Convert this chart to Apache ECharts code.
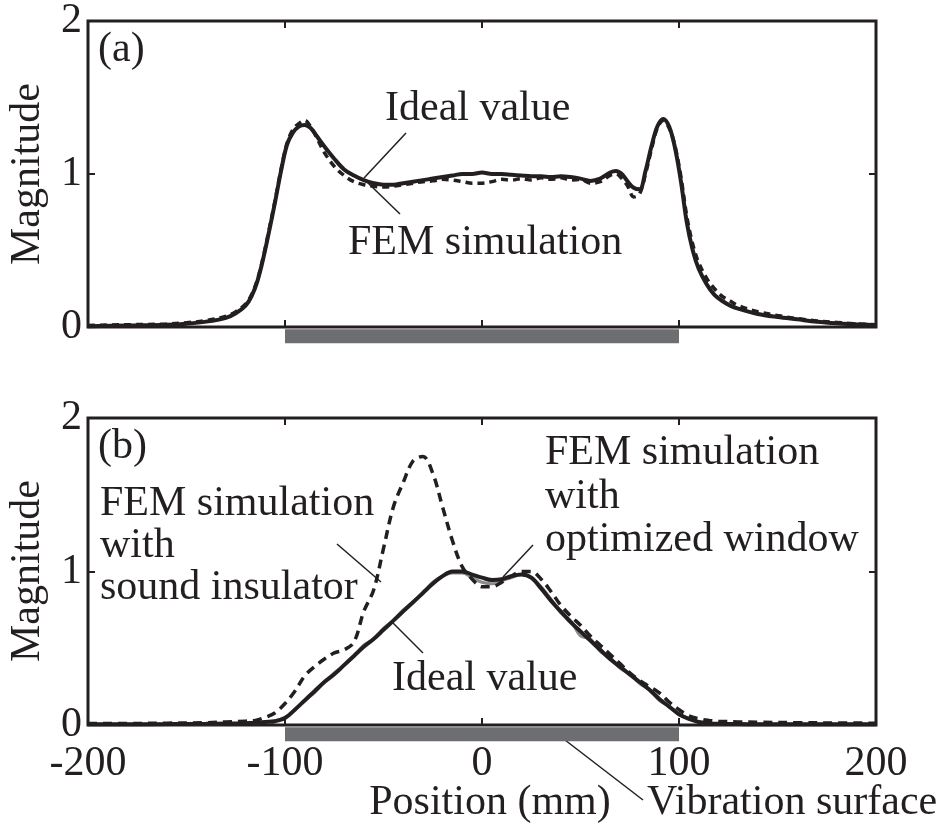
<!DOCTYPE html>
<html>
<head>
<meta charset="utf-8">
<script src="https://cdn.jsdelivr.net/npm/echarts@6/dist/echarts.min.js"></script>
<style>
  html, body { margin: 0; padding: 0; background: #fff; }
  #chart { width: 952px; height: 834px; }
</style>
</head>
<body>
<div id="chart"></div>
<script>
// x positions (mm), panel (a)
var posA = [
  -200, -180, -160, -150, -140, -130,
  -125, -120, -117, -114, -111, -108, -105, -102, -99, -96,
  -93, -90, -87, -84, -80, -75, -70, -65,
  -60, -55, -50, -45, -40, -35, -30, -25,
  -20, -15, -10, -5, 0, 5, 10, 15,
  20, 25, 30, 35, 40, 45, 50, 55,
  60, 65, 68, 71, 74, 77, 80, 83,
  86, 89, 92, 95, 98, 101, 104, 107, 110,
  114, 118, 122, 126, 130,
  140, 150, 160, 170, 180, 190, 200
];
var idealA = [
  0.005, 0.01, 0.015, 0.022, 0.035, 0.06,
  0.09, 0.14, 0.2, 0.3, 0.45, 0.63, 0.82, 1.02, 1.19, 1.27,
  1.31, 1.32, 1.3, 1.25, 1.18, 1.1, 1.03, 0.99,
  0.96, 0.94, 0.93, 0.93, 0.94, 0.95, 0.96, 0.97,
  0.98, 0.99, 1.0, 1.0, 1.01, 1.0, 1.0, 0.995,
  0.99, 0.985, 0.985, 0.98, 0.985, 0.98, 0.97, 0.955,
  0.97, 1.01, 1.02, 1.0, 0.95, 0.91, 0.9, 1.02,
  1.18, 1.31, 1.36, 1.31, 1.17, 0.95, 0.68, 0.5, 0.38,
  0.28, 0.21, 0.17, 0.14, 0.12,
  0.085, 0.065, 0.05, 0.035, 0.025, 0.018, 0.012
];
var femA = [
  0.01, 0.015, 0.02, 0.028, 0.042, 0.07,
  0.1, 0.15, 0.21, 0.31, 0.46, 0.64, 0.83, 1.03, 1.2, 1.29,
  1.33, 1.35, 1.31, 1.24, 1.14, 1.05, 0.99, 0.95,
  0.93, 0.92, 0.915, 0.92, 0.93, 0.94, 0.95, 0.955,
  0.965, 0.96, 0.95, 0.94, 0.94, 0.95, 0.965, 0.96,
  0.97, 0.96, 0.975, 0.965, 0.975, 0.96, 0.965, 0.94,
  0.95, 0.99, 1.0, 0.97, 0.92, 0.85, 0.87, 1.0,
  1.16, 1.3, 1.35, 1.3, 1.18, 0.98, 0.72, 0.54, 0.42,
  0.32, 0.25, 0.2, 0.17, 0.14,
  0.1, 0.075, 0.055, 0.04, 0.03, 0.02, 0.015
];

// x positions (mm), panel (b)
var posB = [
  -200, -180, -160, -140, -130, -120, -115, -110, -105, -100,
  -95, -90, -85, -80, -75, -70, -65, -60, -55, -50,
  -45, -40, -35, -30, -25, -20, -15, -10, -5, 0,
  5, 10, 15, 20, 25, 30, 35, 40, 45, 50,
  55, 60, 65, 70, 75, 80, 85, 90, 95, 100,
  105, 110, 115, 120, 130, 140, 160, 180, 200
];
var idealB = [
  0.005, 0.005, 0.006, 0.008, 0.01, 0.012, 0.015, 0.02, 0.025, 0.045,
  0.1, 0.16, 0.22, 0.28, 0.33, 0.39, 0.45, 0.51, 0.56, 0.62,
  0.68, 0.74, 0.8, 0.86, 0.92, 0.97, 1.0, 1.0, 0.98, 0.96,
  0.945, 0.95, 0.97, 0.98, 0.96, 0.89, 0.81, 0.74, 0.67, 0.61,
  0.55, 0.49, 0.43, 0.38, 0.33, 0.28, 0.23, 0.17, 0.12, 0.07,
  0.04, 0.02, 0.012, 0.008, 0.006, 0.005, 0.005, 0.005, 0.005
];
var insulatorB = [
  0.01, 0.01, 0.012, 0.015, 0.02, 0.025, 0.03, 0.05, 0.08, 0.14,
  0.22, 0.32, 0.38, 0.43, 0.47, 0.49, 0.54, 0.74, 0.88, 1.15,
  1.42, 1.58, 1.72, 1.75, 1.64, 1.42, 1.2, 1.03, 0.95, 0.9,
  0.9, 0.93, 0.97, 1.0, 1.0, 0.95, 0.87, 0.78, 0.71, 0.65,
  0.58, 0.52, 0.46, 0.4, 0.34, 0.29, 0.25, 0.21, 0.15, 0.1,
  0.06, 0.04, 0.03, 0.025, 0.02, 0.018, 0.015, 0.013, 0.012
];
var optimizedB = [
  0.005, 0.005, 0.006, 0.008, 0.01, 0.012, 0.015, 0.02, 0.028, 0.05,
  0.1, 0.16, 0.21, 0.28, 0.34, 0.39, 0.45, 0.52, 0.56, 0.63,
  0.68, 0.75, 0.8, 0.86, 0.93, 0.97, 0.99, 0.99, 0.96, 0.93,
  0.92, 0.94, 0.96, 0.98, 0.96, 0.9, 0.82, 0.73, 0.68, 0.58,
  0.56, 0.48, 0.44, 0.37, 0.33, 0.27, 0.23, 0.16, 0.12, 0.07,
  0.04, 0.02, 0.012, 0.008, 0.006, 0.005, 0.005, 0.005, 0.005
];

// vibration surface extent (mm)
var surfaceEdges = [-100, 100];
var xTicks = [-200, -100, 0, 100, 200];
var yTicks = [0, 1, 2];

var ink = "#231f20";
var font = '"Liberation Serif", "Times New Roman", serif';
var fs = 42;

function pairs(xs, ys) {
  return xs.map(function (x, i) { return [x, ys[i]]; });
}

function xAx(grid, pos, labels) {
  return {
    type: "value", gridIndex: grid, position: pos,
    min: xTicks[0], max: xTicks[xTicks.length - 1], interval: 100,
    axisLine: { show: false, onZero: false },
    axisTick: { show: true, inside: true, length: 7, lineStyle: { color: ink, width: 2 } },
    axisLabel: { show: labels, margin: 18, color: ink, fontFamily: font, fontSize: fs },
    splitLine: { show: false }
  };
}
function yAx(grid, pos, labels) {
  return {
    type: "value", gridIndex: grid, position: pos,
    min: yTicks[0], max: yTicks[yTicks.length - 1], interval: 1,
    axisLine: { show: false, onZero: false },
    axisTick: { show: true, inside: true, length: 7, lineStyle: { color: ink, width: 2 } },
    axisLabel: { show: labels, margin: 6, color: ink, fontFamily: font, fontSize: fs },
    splitLine: { show: false }
  };
}
function curve(xi, yi, data, color, width, type) {
  return {
    type: "line", xAxisIndex: xi, yAxisIndex: yi, data: data,
    showSymbol: false, smooth: 0.35, silent: true,
    lineStyle: { color: color, width: width, type: type }
  };
}
function surface(xi, yi) {
  return {
    type: "line", xAxisIndex: xi, yAxisIndex: yi, clip: false, silent: true,
    showSymbol: false, z: 1,
    data: surfaceEdges.map(function (x) { return [x, -0.06]; }),
    lineStyle: { color: "#6d6e71", width: 14, cap: "butt" }
  };
}
function txt(x, y, s, align, rot) {
  return {
    type: "text", x: x, y: y, rotation: rot || 0, silent: true,
    style: { text: s, fill: ink, font: fs + "px " + font, textAlign: align || "left", textVerticalAlign: "middle" }
  };
}
function ln(x1, y1, x2, y2) {
  return { type: "line", silent: true, shape: { x1: x1, y1: y1, x2: x2, y2: y2 }, style: { stroke: ink, lineWidth: 1.5 } };
}

var chart = echarts.init(document.getElementById("chart"));
var option = {
  animation: false,
  backgroundColor: "#fff",
  grid: [
    { left: 88, top: 21, width: 788, height: 306, show: true, borderColor: ink, borderWidth: 3, backgroundColor: "transparent" },
    { left: 88, top: 418, width: 788, height: 307, show: true, borderColor: ink, borderWidth: 3, backgroundColor: "transparent" }
  ],
  xAxis: [xAx(0, "bottom", false), xAx(0, "top", false), xAx(1, "bottom", true), xAx(1, "top", false)],
  yAxis: [yAx(0, "left", true), yAx(0, "right", false), yAx(1, "left", true), yAx(1, "right", false)],
  series: [
    surface(0, 0),
    curve(0, 0, pairs(posA, femA), ink, 3.5, [7, 5]),
    curve(0, 0, pairs(posA, idealA), ink, 4, "solid"),
    surface(2, 2),
    curve(2, 2, pairs(posB, optimizedB), "#8c8c8c", 3, "solid"),
    curve(2, 2, pairs(posB, idealB), ink, 4, "solid"),
    curve(2, 2, pairs(posB, insulatorB), ink, 3.5, [9, 6])
  ],
  graphic: [
    txt(28, 174, "Magnitude", "center", Math.PI / 2),
    txt(28, 571, "Magnitude", "center", Math.PI / 2),
    txt(98, 50, "(a)"),
    txt(98, 447, "(b)"),
    txt(385, 109, "Ideal value"),
    txt(348, 243, "FEM simulation"),
    ln(406, 133, 364, 178),
    ln(400, 214, 368, 183),
    txt(100, 504, "FEM simulation"),
    txt(100, 546, "with"),
    txt(100, 588, "sound insulator"),
    ln(337, 544, 381, 582),
    txt(545, 453, "FEM simulation"),
    txt(545, 497, "with"),
    txt(545, 540, "optimized window"),
    ln(533, 545, 503, 577),
    txt(392, 679, "Ideal value"),
    ln(393, 623, 423, 653),
    txt(490, 803, "Position (mm)", "center"),
    txt(647, 803, "Vibration surface"),
    ln(552, 730, 643, 800)
  ]
};
chart.setOption(option);
</script>
</body>
</html>
